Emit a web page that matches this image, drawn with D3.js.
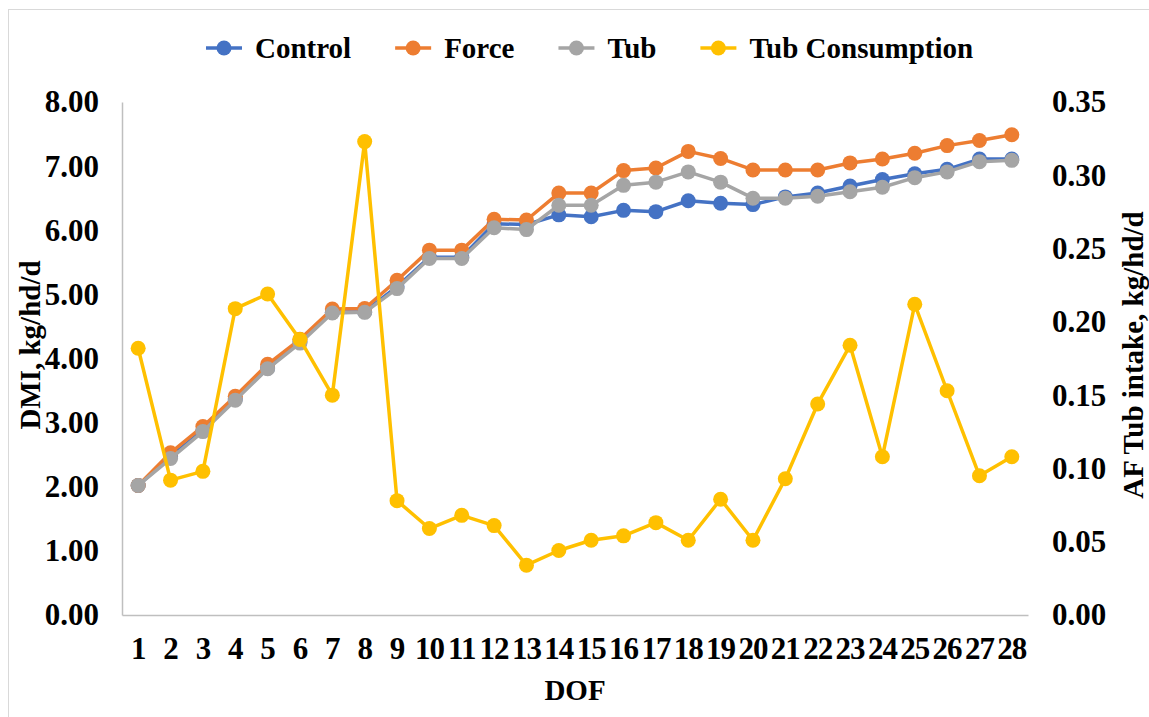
<!DOCTYPE html>
<html>
<head>
<meta charset="utf-8">
<script src="https://cdn.jsdelivr.net/npm/d3@7"></script>
<style>
	body { margin: 0; background: #fff; }
	svg text { font-family: "Liberation Serif", "Times New Roman", serif; font-weight: bold; fill: #000; }
</style>
</head>
<body>
<svg id="chart" width="1149" height="717"></svg>
<script>
//data
var days = d3.range(1, 29);
var control = [2.02, 2.47, 2.88, 3.37, 3.85, 4.26, 4.72, 4.73, 5.12, 5.58, 5.58, 6.10, 6.09, 6.24, 6.21, 6.31, 6.29, 6.46, 6.42, 6.40, 6.52, 6.58, 6.69, 6.79, 6.88, 6.95, 7.11, 7.11];
var force = [2.02, 2.53, 2.94, 3.41, 3.91, 4.30, 4.77, 4.78, 5.22, 5.69, 5.69, 6.17, 6.16, 6.58, 6.58, 6.93, 6.97, 7.23, 7.12, 6.94, 6.94, 6.94, 7.05, 7.11, 7.20, 7.32, 7.40, 7.49];
var tub = [2.02, 2.44, 2.86, 3.35, 3.84, 4.24, 4.71, 4.72, 5.09, 5.56, 5.56, 6.04, 6.01, 6.39, 6.39, 6.70, 6.75, 6.91, 6.75, 6.50, 6.50, 6.53, 6.60, 6.67, 6.82, 6.91, 7.07, 7.09];
var tubConsumption = [0.182, 0.092, 0.098, 0.209, 0.219, 0.188, 0.150, 0.323, 0.078, 0.059, 0.068, 0.061, 0.034, 0.044, 0.051, 0.054, 0.063, 0.051, 0.079, 0.051, 0.093, 0.144, 0.184, 0.108, 0.212, 0.153, 0.095, 0.108];
var leftTicks = [0, 1, 2, 3, 4, 5, 6, 7, 8];
var rightTicks = [0, 0.05, 0.10, 0.15, 0.20, 0.25, 0.30, 0.35];

var seriesList = [
	{name: 'Control', values: control, color: '#4472C4', axis: 'left'},
	{name: 'Force', values: force, color: '#ED7D31', axis: 'left'},
	{name: 'Tub', values: tub, color: '#A5A5A5', axis: 'left'},
	{name: 'Tub Consumption', values: tubConsumption, color: '#FFC000', axis: 'right'}
];

var svg = d3.select('#chart');

//outer frame
svg.append('rect')
	.attr('x', 8.5).attr('y', 9.5)
	.attr('width', 1200).attr('height', 800)
	.style('fill', 'none')
	.style('stroke', '#D9D9D9');

//scales
var xScale = d3.scaleBand().domain(days).range([122, 1028]);
var yLeft = d3.scaleLinear().domain([0, 8]).range([615, 102]);
var yRight = d3.scaleLinear().domain([0, 0.35]).range([615, 102]);
var xMid = d => xScale(d) + xScale.bandwidth() / 2;

//left axis
var leftAxis = svg.append('g')
	.attr('transform', 'translate(122,0)')
	.call(d3.axisLeft(yLeft).tickValues(leftTicks).tickFormat(d3.format('.2f')).tickSize(0).tickPadding(23));
leftAxis.select('.domain').style('stroke', '#BFBFBF').style('stroke-width', 1.5);
leftAxis.selectAll('text').style('font-size', '31px');

//right axis
var rightAxis = svg.append('g')
	.attr('transform', 'translate(1028,0)')
	.call(d3.axisRight(yRight).tickValues(rightTicks).tickFormat(d3.format('.2f')).tickSize(0).tickPadding(24));
rightAxis.select('.domain').remove();
rightAxis.selectAll('text').style('font-size', '31px');

//bottom axis
var bottomAxis = svg.append('g')
	.attr('transform', 'translate(0,615)')
	.call(d3.axisBottom(xScale).tickSize(0).tickSizeOuter(0).tickPadding(22));
bottomAxis.select('.domain').style('stroke', '#BFBFBF').style('stroke-width', 1.5);
bottomAxis.selectAll('text').style('font-size', '31px').style('letter-spacing', '-1px');

//axis titles
svg.append('text')
	.attr('transform', 'translate(40,345) rotate(-90)')
	.style('text-anchor', 'middle')
	.style('font-size', '29px')
	.text('DMI, kg/hd/d');
svg.append('text')
	.attr('transform', 'translate(1143,355) rotate(-90)')
	.style('text-anchor', 'middle')
	.style('font-size', '29px')
	.text('AF Tub intake, kg/hd/d');
svg.append('text')
	.attr('x', 575).attr('y', 700)
	.style('text-anchor', 'middle')
	.style('font-size', '29px')
	.text('DOF');

//series
seriesList.forEach(function(s) {
	var yS = s.axis === 'left' ? yLeft : yRight;
	var line = d3.line().x((d, i) => xMid(days[i])).y(d => yS(d));
	var g = svg.append('g').classed('series', true);
	g.append('path')
		.datum(s.values)
		.attr('d', line)
		.style('fill', 'none')
		.style('stroke', s.color)
		.style('stroke-width', 3.5)
		.style('stroke-linejoin', 'round');
	g.selectAll('circle')
		.data(s.values)
		.join('circle')
		.attr('cx', (d, i) => xMid(days[i]))
		.attr('cy', d => yS(d))
		.attr('r', 7.5)
		.style('fill', s.color);
});

//legend
var legend = svg.append('g').attr('transform', 'translate(206,48)');
var lx = 0;
seriesList.forEach(function(s) {
	var item = legend.append('g').attr('transform', `translate(${lx},0)`);
	item.append('line')
		.attr('x1', 0).attr('x2', 36)
		.style('stroke', s.color)
		.style('stroke-width', 3.5);
	item.append('circle')
		.attr('cx', 18).attr('r', 7.5)
		.style('fill', s.color);
	var t = item.append('text')
		.attr('x', 49).attr('dy', '0.35em')
		.style('font-size', '29px')
		.text(s.name);
	lx += 49 + t.node().getComputedTextLength() + 44;
});
</script>
</body>
</html>
